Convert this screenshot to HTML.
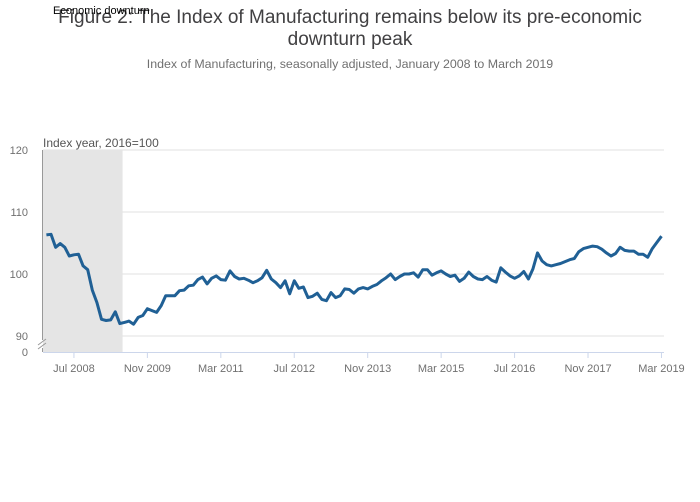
<!DOCTYPE html>
<html><head><meta charset="utf-8"><style>
body{margin:0;background:#fff;font-family:"Liberation Sans",sans-serif}
svg{display:block}
</style></head><body>
<svg id="chart" width="700" height="502">
<text x="350" y="23" text-anchor="middle" font-size="19" fill="#414042">Figure 2: The Index of Manufacturing remains below its pre-economic</text>
<text x="350" y="45" text-anchor="middle" font-size="19" fill="#414042">downturn peak</text>
<text x="350" y="68" text-anchor="middle" font-size="12.4" fill="#707070">Index of Manufacturing, seasonally adjusted, January 2008 to March 2019</text>
<g id="grid"></g><g id="shade"></g><g id="axes"></g><g id="series"></g>
<text x="53" y="14" font-size="11" fill="#000">Economic downturn</text>
<text x="43" y="147" font-size="12" fill="#555">Index year, 2016=100</text>
</svg>
<script>
const values=[106.3,106.4,104.3,104.9,104.3,102.9,103.1,103.2,101.3,100.7,97.4,95.4,
92.7,92.5,92.6,93.9,92.0,92.2,92.4,91.9,93.0,93.3,94.4,94.1,
93.8,94.9,96.5,96.5,96.5,97.3,97.4,98.1,98.2,99.1,99.5,98.4,
99.3,99.7,99.1,99.0,100.5,99.6,99.2,99.3,99.0,98.6,98.9,99.4,
100.6,99.2,98.6,97.8,98.9,96.8,98.9,97.7,97.9,96.2,96.4,96.9,
95.9,95.7,97.0,96.2,96.5,97.6,97.5,96.9,97.6,97.8,97.6,98.0,
98.3,98.9,99.4,100.0,99.1,99.6,100.0,100.0,100.2,99.5,100.7,100.7,
99.8,100.2,100.5,100.0,99.6,99.8,98.8,99.3,100.3,99.6,99.2,99.1,
99.6,99.0,98.7,101.0,100.3,99.7,99.3,99.7,100.4,99.2,100.8,103.4,
102.1,101.5,101.3,101.5,101.7,102.0,102.3,102.5,103.6,104.1,104.3,104.5,
104.4,104.0,103.4,102.9,103.3,104.3,103.8,103.7,103.7,103.2,103.2,102.7,
104.1,105.1,106.1];
const xTickIdx=[6,22,38,54,70,86,102,118,134];
const xTickLabels=["Jul 2008","Nov 2009","Mar 2011","Jul 2012","Nov 2013","Mar 2015","Jul 2016","Nov 2017","Mar 2019"];
const yTicks=[90,100,110,120];
const shadeRange=[0,16.6];
const NS="http://www.w3.org/2000/svg";
const x=i=>46.4+i*4.59;
const y=v=>274-(v-100)*6.2;
function mk(t,a,p){const e=document.createElementNS(NS,t);for(const k in a)e.setAttribute(k,a[k]);p.appendChild(e);return e;}
const grid=document.getElementById('grid'),axes=document.getElementById('axes'),sh=document.getElementById('shade'),ser=document.getElementById('series');
yTicks.forEach(v=>{
 const l=mk('line',{x1:43,x2:664,y1:y(v),y2:y(v),stroke:'#e0e0e0','stroke-width':1},grid);
 
 
 const t=mk('text',{x:28,y:y(v)+4,'text-anchor':'end','font-size':11,fill:'#707070'},axes);
 t.textContent=v;
 
 
});
const z=mk('text',{x:28,y:356,'text-anchor':'end','font-size':11,fill:'#707070'},axes);z.textContent='0';


const r=mk('rect',{x:43,y:150,width:x(shadeRange[1])-43,height:202,fill:'#e5e5e5'},sh);


const ya=mk('path',{d:'M42.5 150V340M42.5 348V352M38 345l8-6M38 349l8-6',stroke:'#999',fill:'none','stroke-width':1},axes);


const xa=mk('line',{x1:43,x2:664,y1:352.5,y2:352.5,stroke:'#ccd6eb'},axes);


xTickIdx.forEach((i,k)=>{
 mk('line',{x1:x(i),x2:x(i),y1:352,y2:358,stroke:'#ccd6eb'},axes);
 const t=mk('text',{x:x(i),y:372,'text-anchor':'middle','font-size':11,fill:'#707070'},axes);
 t.textContent=xTickLabels[k];
 
 
});
const p=mk('path',{d:values.map((v,i)=>(i?'L':'M')+x(i).toFixed(1)+' '+y(v).toFixed(1)).join(''),fill:'none',stroke:'#206095','stroke-width':3,'stroke-linejoin':'round'},ser);


</script>
</body></html>
